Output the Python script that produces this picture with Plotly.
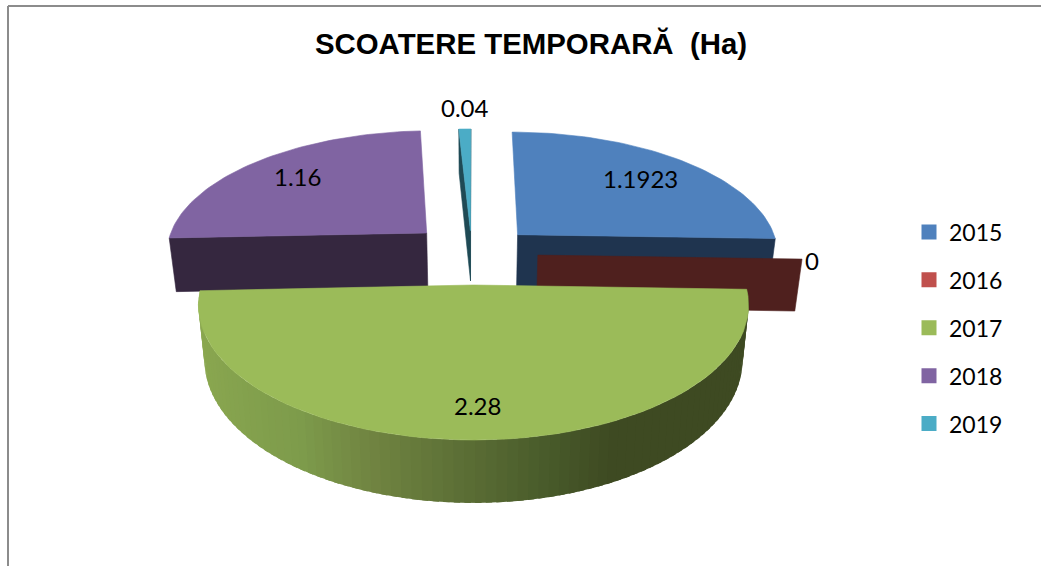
import math
import plotly.graph_objects as go

# ---- data ----
YEARS = ["2015", "2016", "2017", "2018", "2019"]
VALUES = [1.1923, 0, 2.28, 1.16, 0.04]
COLORS = ["#4F81BD", "#C0504D", "#9BBB59", "#8064A2", "#4BACC6"]
SIDES = ["#1F344F", "#4F201E", "#3E4A22", "#35273F", "#1F4A55"]
TITLE = "SCOATERE TEMPORARĂ  (Ha)"

# ---- projection of the 3D pie onto the page (pixels) ----
CX, CY = 473.5, 285
A, B, K = 272, 131.75, 0.15
H = 53.5
SHRINK = 0.022
OFFSETS = [(0.172, 0.405), (0.245, 0.235), (0, 0), (-0.183, 0.42), (-0.012, 0.44)]
WALLS = [1.06, 1.0, 1.0, 1.06, 1.0]
LABEL_POS = [(640, 178), (812, 260), (477, 405), (297, 176), (465, 107)]


def proj(x, y, z=0.0):
    s = 1 / (1 + K * y)
    return CX + A * x * s * (1 - SHRINK * z), CY - B * y * s + H * z * s


def arc(a0, a1, off, z=0.0, n=60):
    pts = []
    for i in range(n + 1):
        t = math.radians(a0 + (a1 - a0) * i / n)
        pts.append(proj(off[0] + math.sin(t), off[1] + math.cos(t), z))
    return pts


def poly(fig, pts, color, width=0.6):
    xs = [p[0] for p in pts] + [pts[0][0]]
    ys = [p[1] for p in pts] + [pts[0][1]]
    fig.add_trace(go.Scatter(x=xs, y=ys, mode="lines", fill="toself", fillcolor=color,
                             line=dict(color=color, width=width), hoverinfo="skip", showlegend=False))


def mix(c0, c1, t):
    return "rgb(%d,%d,%d)" % tuple(round(c0[i] + (c1[i] - c0[i]) * t) for i in range(3))


total = sum(VALUES)
spans = []
start = 0.0
for v in VALUES:
    end = start + v / total * 360
    spans.append((start, end))
    start = end

fig = go.Figure()


def radial(i, angle):
    off = OFFSETS[i]
    z = WALLS[i]
    a = proj(off[0], off[1], 0)
    b = proj(off[0], off[1], z)
    t = math.radians(angle)
    rim = (off[0] + math.sin(t), off[1] + math.cos(t))
    return [a, proj(*rim, 0), proj(*rim, z), b]


# back slices first, front slice last
for i in [3, 4, 0]:
    a0, a1 = spans[i]
    edge = a0 if i == 3 else a1
    poly(fig, radial(i, edge), SIDES[i])
    if i == 4:
        poly(fig, radial(i, a0), SIDES[i])
    poly(fig, [proj(*OFFSETS[i])] + arc(a0, a1, OFFSETS[i]), COLORS[i])

# zero-valued slice: only its radial wall is visible
poly(fig, radial(1, spans[1][0]), SIDES[1])

# front slice: shaded outer wall then top
a0, a1 = spans[2]
SHADE_STOPS = [(0.0, (139, 168, 80)), (0.22, (125, 155, 75)), (0.34, (112, 132, 65)),
               (0.62, (72, 90, 42)), (0.72, (62, 74, 34)), (1.0, (62, 74, 34))]
N = 90
for j in range(N):
    # walk from the left end to the right end so each strip overlaps the previous one
    t0 = a1 + (a0 - a1) * j / N
    t1 = a1 + (a0 - a1) * (j + 1.6) / N
    t1 = max(t1, a0)
    top = arc(t0, t1, (0, 0), 0, 3)
    bot = arc(t1, t0, (0, 0), 1, 3)
    mid = a1 + (a0 - a1) * (j + 0.5) / N
    f = 0.5 + 0.5 * math.sin(math.radians(mid))
    for (p0, c0), (p1, c1) in zip(SHADE_STOPS, SHADE_STOPS[1:]):
        if p0 <= f <= p1:
            col = mix(c0, c1, (f - p0) / (p1 - p0))
            break
    poly(fig, top + bot, col, width=0)
poly(fig, [proj(0, 0)] + arc(a0, a1, (0, 0)), COLORS[2])

# legend
for name, color in zip(YEARS, COLORS):
    fig.add_trace(go.Scatter(x=[None], y=[None], mode="markers", name=name, legendgroup=name,
                             marker=dict(symbol="square", size=15, color=color)))

# data labels
for v, (lx, ly) in zip(VALUES, LABEL_POS):
    fig.add_annotation(x=lx, y=ly, text=str(v), showarrow=False, xref="x", yref="y",
                       font=dict(family="Lato", size=24, color="#000000"))

# chart frame: top and left edges only
fig.add_shape(type="line", x0=8, x1=1041, y0=6, y1=6, line=dict(color="#8C8C8C", width=2))
fig.add_shape(type="line", x0=8, x1=8, y0=6, y1=566, line=dict(color="#8C8C8C", width=2))

fig.update_layout(
    width=1041, height=566, margin=dict(l=0, r=0, t=0, b=0),
    paper_bgcolor="#FFFFFF", plot_bgcolor="#FFFFFF",
    title=dict(text="<b>%s</b>" % TITLE, x=531 / 1041, y=1 - 44 / 566, xanchor="center", yanchor="middle",
               font=dict(family="Liberation Sans", size=29.4, color="#000000")),
    xaxis=dict(range=[0, 1041], visible=False, fixedrange=True),
    yaxis=dict(range=[566, 0], visible=False, fixedrange=True),
    legend=dict(x=909 / 1041, y=1 - 210.5 / 566, xanchor="left", yanchor="top", tracegroupgap=15,
                font=dict(family="Lato", size=23, color="#000000"), itemsizing="trace",
                bgcolor="rgba(0,0,0,0)"),
)
fig.write_html("out.html", config={"displayModeBar": False},
               post_script="document.body.style.margin='0';")
